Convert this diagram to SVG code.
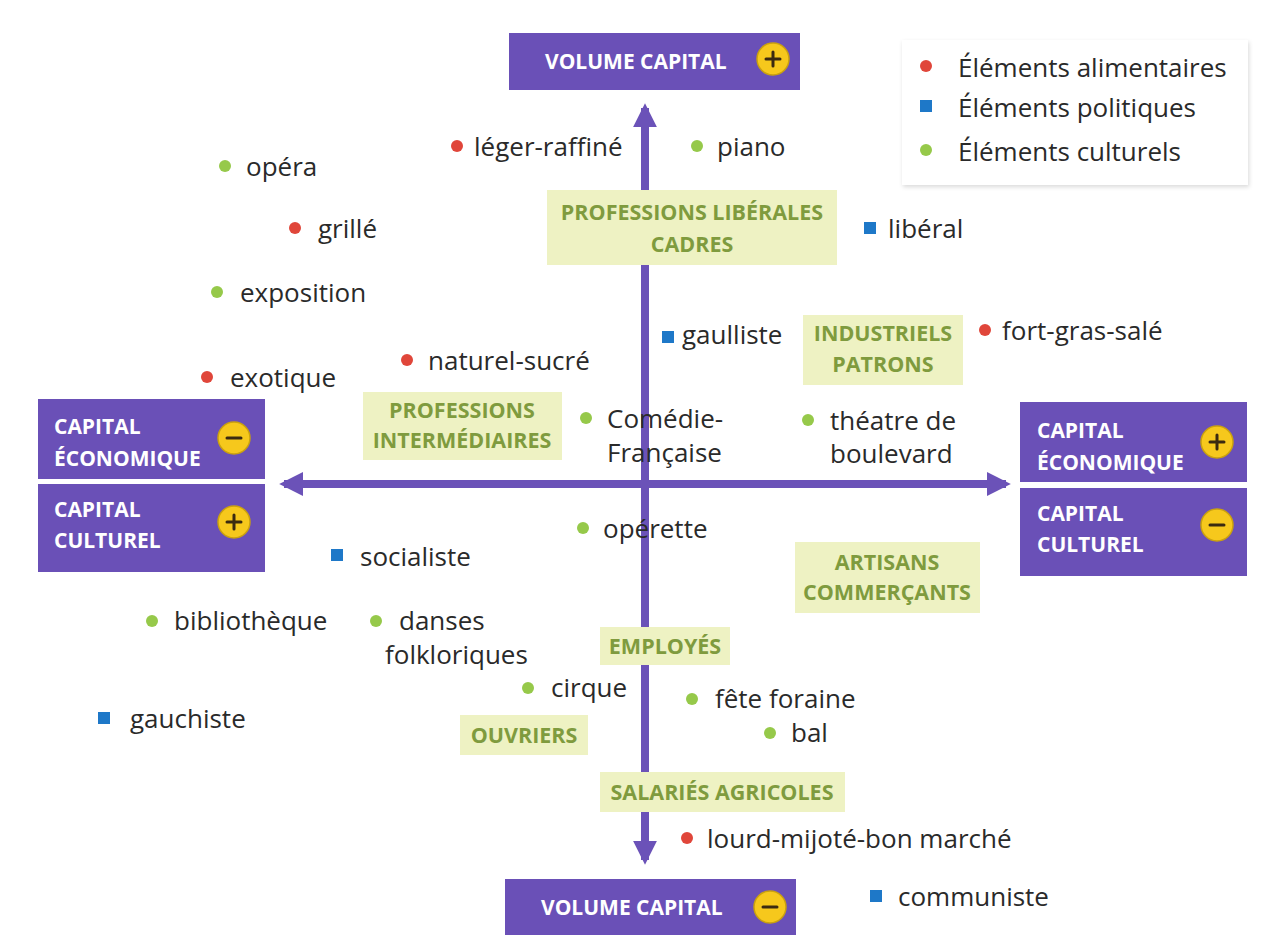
<svg xmlns="http://www.w3.org/2000/svg" width="1266" height="940" viewBox="0 0 1266 940">
<style>
.t{font-family:"Open Sans","Noto Sans",sans-serif;font-size:26px;fill:#2a2a2a}
.b{font-family:"Open Sans","Noto Sans",sans-serif;font-size:21px;font-weight:bold;fill:#ffffff}
.g{font-family:"Open Sans","Noto Sans",sans-serif;font-size:21.5px;font-weight:bold;fill:#7f9b3e;text-anchor:middle}
.box{fill:#6a50b7}
.lab{fill:#eef2c3}
.yc{fill:#f6c81c;stroke:#caa10e;stroke-width:1.5}
.sg{stroke:#3a2a10;stroke-width:3;stroke-linecap:round}
.red{fill:#e0463a}.grn{fill:#96c94a}.blu{fill:#1e78c8}
.ax{stroke:#6b52b8;stroke-width:8;fill:none}
</style>
<defs>
<marker id="ah" viewBox="0 0 10 10" refX="8" refY="5" markerWidth="3" markerHeight="3" orient="auto" markerUnits="strokeWidth">
<path d="M0,0 L10,5 L0,10 z" fill="#6b52b8"/>
</marker>
<filter id="sh" x="-5%" y="-5%" width="110%" height="115%"><feDropShadow dx="1" dy="2" stdDeviation="2" flood-color="#000" flood-opacity="0.15"/></filter>
</defs>
<rect width="1266" height="940" fill="#ffffff"/>

<g id="connectors">
<line class="ax" x1="645" y1="480" x2="645" y2="108" marker-end="url(#ah)"/>
<line class="ax" x1="645" y1="480" x2="645" y2="860" marker-end="url(#ah)"/>
<line class="ax" x1="645" y1="484" x2="284" y2="484" marker-end="url(#ah)"/>
<line class="ax" x1="645" y1="484" x2="1006" y2="484" marker-end="url(#ah)"/>
</g>

<g id="legend">
<rect x="902" y="40" width="346" height="145" fill="#ffffff" filter="url(#sh)"/>
<circle class="red" cx="926" cy="66" r="6"/>
<text class="t" x="958" y="77">Éléments alimentaires</text>
<rect class="blu" x="920" y="100" width="12" height="12"/>
<text class="t" x="958" y="117">Éléments politiques</text>
<circle class="grn" cx="926" cy="150" r="6"/>
<text class="t" x="958" y="161">Éléments culturels</text>
</g>

<g id="volume-plus">
<rect class="box" x="509" y="33" width="291" height="57"/>
<text class="b" x="545" y="69">VOLUME CAPITAL</text>
<circle class="yc" cx="773" cy="59" r="16"/>
<line class="sg" x1="766" y1="59" x2="780" y2="59"/><line class="sg" x1="773" y1="52" x2="773" y2="66"/>
</g>

<g id="volume-minus">
<rect class="box" x="505" y="879" width="291" height="56"/>
<text class="b" x="541" y="915">VOLUME CAPITAL</text>
<circle class="yc" cx="770" cy="907" r="16"/>
<line class="sg" x1="763" y1="907" x2="777" y2="907"/>
</g>

<g id="left-eco">
<rect class="box" x="38" y="399" width="227" height="80"/>
<text class="b" x="54" y="434">CAPITAL</text>
<text class="b" x="54" y="466">ÉCONOMIQUE</text>
<circle class="yc" cx="234" cy="438" r="16"/>
<line class="sg" x1="227" y1="438" x2="241" y2="438"/>
</g>
<g id="left-cult">
<rect class="box" x="38" y="484" width="227" height="88"/>
<text class="b" x="54" y="517">CAPITAL</text>
<text class="b" x="54" y="548">CULTUREL</text>
<circle class="yc" cx="234" cy="522" r="16"/>
<line class="sg" x1="227" y1="522" x2="241" y2="522"/><line class="sg" x1="234" y1="515" x2="234" y2="529"/>
</g>

<g id="right-eco">
<rect class="box" x="1020" y="402" width="227" height="80"/>
<text class="b" x="1037" y="438">CAPITAL</text>
<text class="b" x="1037" y="470">ÉCONOMIQUE</text>
<circle class="yc" cx="1217" cy="442" r="16"/>
<line class="sg" x1="1210" y1="442" x2="1224" y2="442"/><line class="sg" x1="1217" y1="435" x2="1217" y2="449"/>
</g>
<g id="right-cult">
<rect class="box" x="1020" y="488" width="227" height="88"/>
<text class="b" x="1037" y="521">CAPITAL</text>
<text class="b" x="1037" y="552">CULTUREL</text>
<circle class="yc" cx="1217" cy="525" r="16"/>
<line class="sg" x1="1210" y1="525" x2="1224" y2="525"/>
</g>

<g id="prof-liberales">
<rect class="lab" x="547" y="190" width="290" height="75"/>
<text class="g" x="692" y="220">PROFESSIONS LIBÉRALES</text>
<text class="g" x="692" y="252">CADRES</text>
</g>
<g id="industriels">
<rect class="lab" x="803" y="315" width="160" height="70"/>
<text class="g" x="883" y="341">INDUSTRIELS</text>
<text class="g" x="883" y="372">PATRONS</text>
</g>
<g id="prof-inter">
<rect class="lab" x="363" y="392" width="199" height="68"/>
<text class="g" x="462" y="418">PROFESSIONS</text>
<text class="g" x="462" y="448">INTERMÉDIAIRES</text>
</g>
<g id="artisans">
<rect class="lab" x="795" y="542" width="185" height="71"/>
<text class="g" x="887" y="570">ARTISANS</text>
<text class="g" x="887" y="600">COMMERÇANTS</text>
</g>
<g id="employes">
<rect class="lab" x="600" y="627" width="130" height="38"/>
<text class="g" x="665" y="654">EMPLOYÉS</text>
</g>
<g id="ouvriers">
<rect class="lab" x="460" y="715" width="128" height="40"/>
<text class="g" x="524" y="743">OUVRIERS</text>
</g>
<g id="salaries">
<rect class="lab" x="600" y="772" width="245" height="40"/>
<text class="g" x="722" y="800">SALARIÉS AGRICOLES</text>
</g>

<g id="items">
<g id="leger-raffine"><circle class="red" cx="457" cy="146" r="6"/><text class="t" x="474" y="156">léger-raffiné</text></g>
<g id="piano"><circle class="grn" cx="697" cy="146" r="6"/><text class="t" x="717" y="156">piano</text></g>
<g id="opera"><circle class="grn" cx="225" cy="166" r="6"/><text class="t" x="246" y="176">opéra</text></g>
<g id="grille"><circle class="red" cx="295" cy="228" r="6"/><text class="t" x="318" y="238">grillé</text></g>
<g id="liberal"><rect class="blu" x="864" y="222" width="12" height="12"/><text class="t" x="888" y="238">libéral</text></g>
<g id="exposition"><circle class="grn" cx="217" cy="292" r="6"/><text class="t" x="240" y="302">exposition</text></g>
<g id="gaulliste"><rect class="blu" x="662" y="331" width="12" height="12"/><text class="t" x="682" y="344">gaulliste</text></g>
<g id="fort-gras-sale"><circle class="red" cx="985" cy="330" r="6"/><text class="t" x="1002" y="340">fort-gras-salé</text></g>
<g id="naturel-sucre"><circle class="red" cx="407" cy="360" r="6"/><text class="t" x="428" y="370">naturel-sucré</text></g>
<g id="exotique"><circle class="red" cx="207" cy="377" r="6"/><text class="t" x="230" y="387">exotique</text></g>
<g id="comedie"><circle class="grn" cx="586" cy="418" r="6"/><text class="t" x="607" y="428">Comédie-</text><text class="t" x="607" y="462">Française</text></g>
<g id="theatre"><circle class="grn" cx="808" cy="420" r="6"/><text class="t" x="830" y="430">théatre de</text><text class="t" x="830" y="463">boulevard</text></g>
<g id="operette"><circle class="grn" cx="583" cy="528" r="6"/><text class="t" x="603" y="538">opérette</text></g>
<g id="socialiste"><rect class="blu" x="331" y="549" width="12" height="12"/><text class="t" x="360" y="566">socialiste</text></g>
<g id="bibliotheque"><circle class="grn" cx="152" cy="621" r="6"/><text class="t" x="174" y="630">bibliothèque</text></g>
<g id="danses"><circle class="grn" cx="376" cy="621" r="6"/><text class="t" x="399" y="630">danses</text><text class="t" x="385" y="664">folkloriques</text></g>
<g id="cirque"><circle class="grn" cx="528" cy="688" r="6"/><text class="t" x="551" y="697">cirque</text></g>
<g id="fete-foraine"><circle class="grn" cx="692" cy="699" r="6"/><text class="t" x="715" y="708">fête foraine</text></g>
<g id="bal"><circle class="grn" cx="770" cy="733" r="6"/><text class="t" x="791" y="742">bal</text></g>
<g id="gauchiste"><rect class="blu" x="98" y="712" width="12" height="12"/><text class="t" x="130" y="728">gauchiste</text></g>
<g id="lourd"><circle class="red" cx="687" cy="838" r="6"/><text class="t" x="707" y="848">lourd-mijoté-bon marché</text></g>
<g id="communiste"><rect class="blu" x="870" y="890" width="12" height="12"/><text class="t" x="898" y="906">communiste</text></g>
</g>
</svg>
